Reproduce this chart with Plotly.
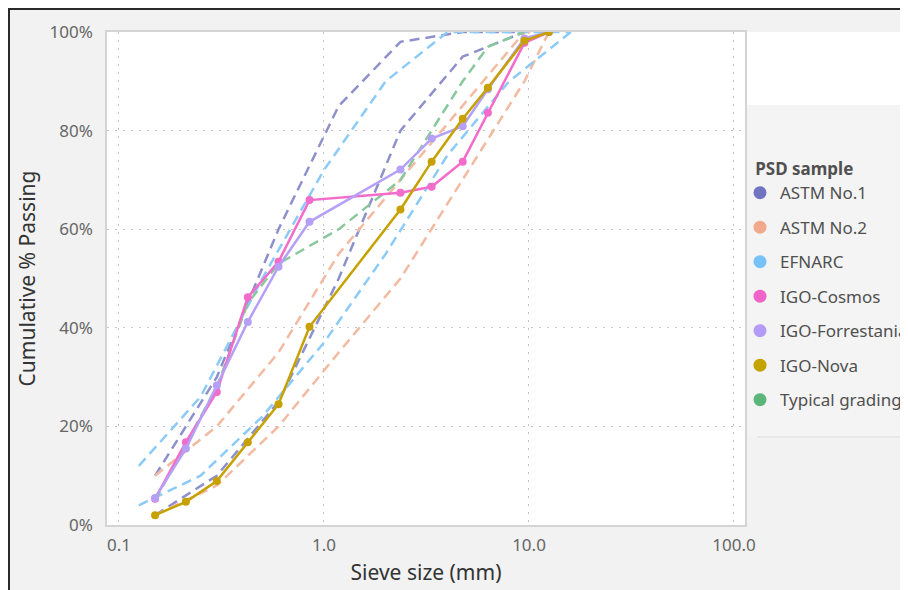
import plotly.graph_objects as go

# ---------------- data ----------------
astm1_sizes = [0.15, 0.3, 0.6, 1.18, 2.36, 4.75, 9.5]
astm1_upper = [10, 30, 60, 85, 98, 100, 100]
astm1_lower = [2, 10, 25, 50, 80, 95, 100]

astm2_sizes = [0.15, 0.3, 0.6, 1.18, 2.36, 4.75, 9.5, 12.5]
astm2_upper = [10, 20, 35, 55, 70, 85, 100, 100]
astm2_lower = [2, 8, 20, 35, 50, 70, 90, 100]

efnarc_sizes = [0.125, 0.25, 0.5, 1, 2, 4, 8, 16]
efnarc_upper = [12, 26, 50, 72, 90, 100, 100, 100]
efnarc_lower = [4, 10, 22, 37, 55, 75, 90, 100]

typical_sizes = [0.15, 0.3, 0.425, 0.6, 1.18, 2.36, 4.75, 6.3, 9.5]
typical_pass = [5, 28, 45, 53, 60, 70, 90, 97, 100]

igo_sizes = [0.15, 0.212, 0.3, 0.425, 0.6, 0.85, 2.36, 3.35, 4.75, 6.3, 9.5, 12.5]
cosmos = [5.3, 16.8, 27.0, 46.2, 53.4, 65.9, 67.4, 68.6, 73.7, 83.6, 97.8, 100]
forrestania = [5.5, 15.5, 28.3, 41.2, 52.4, 61.5, 72.1, 78.4, 80.9, 88.4, 98.7, 100]
nova = [2.0, 4.7, 8.9, 16.8, 24.5, 40.2, 64.0, 73.7, 82.4, 88.7, 98.2, 100]

x_tickvals = [0.1, 1, 10, 100]
x_ticktext = ["0.1", "1.0", "10.0", "100.0"]
y_tickvals = [0, 20, 40, 60, 80, 100]
y_ticktext = ["0%", "20%", "40%", "60%", "80%", "100%"]

legend_names = ["ASTM No.1", "ASTM No.2", "EFNARC", "IGO-Cosmos",
                "IGO-Forrestania", "IGO-Nova", "Typical grading"]
legend_colors = ["#7074c2", "#f2a98b", "#76c2f9", "#f063c9",
                 "#b49cf6", "#c4a200", "#5bb67c"]

# ---------------- figure ----------------
# The page has an 8px body margin, so the figure occupies 900x582 of the window.
W, H = 900, 582
L, R, T, B = 99, 737, 24, 517  # plot area in figure pixels

fig = go.Figure()

dash_pat = "10px,6px"
dashed = [
    (astm1_sizes, astm1_upper, "#8e90cc"),
    (astm1_sizes, astm1_lower, "#8e90cc"),
    (astm2_sizes, astm2_upper, "#f3baa2"),
    (astm2_sizes, astm2_lower, "#f3baa2"),
    (efnarc_sizes, efnarc_upper, "#8ccbf8"),
    (efnarc_sizes, efnarc_lower, "#8ccbf8"),
    (typical_sizes, typical_pass, "#88c89c"),
]
for xs, ys, col in dashed:
    fig.add_trace(go.Scatter(x=xs, y=ys, mode="lines",
                             line=dict(color=col, width=2.5, dash=dash_pat),
                             showlegend=False, hoverinfo="skip"))

solid = [(cosmos, "#f36bcb"), (forrestania, "#b6a0f7"), (nova, "#c6a100")]
for ys, col in solid:
    fig.add_trace(go.Scatter(x=igo_sizes, y=ys, mode="lines+markers",
                             line=dict(color=col, width=2.5),
                             marker=dict(color=col, size=8),
                             showlegend=False))

# legend entries (circle markers)
for i, (nm, col) in enumerate(zip(legend_names, legend_colors)):
    fig.add_trace(go.Scatter(x=[None], y=[None], mode="markers", name=nm,
                             legendgroup=f"g{i}",
                             marker=dict(color=col, size=13, symbol="circle")))

def px2x(px):
    return (px - L) / (R - L)

def py2y(py):
    return (B - py) / (B - T)

shapes = [
    # white region above legend
    dict(type="rect", xref="paper", yref="paper", x0=px2x(R), x1=px2x(W + 5),
         y0=py2y(97), y1=py2y(T), fillcolor="white", line_width=0, layer="below"),
    # legend panel
    dict(type="rect", xref="paper", yref="paper", x0=px2x(R), x1=px2x(W + 5),
         y0=py2y(430), y1=py2y(97), fillcolor="#f4f4f4", line_width=0, layer="below"),
    dict(type="line", xref="paper", yref="paper", x0=px2x(749), x1=px2x(W + 5),
         y0=py2y(429), y1=py2y(429), line=dict(color="#dddddd", width=1), layer="below"),
    # black outer frame
    dict(type="path", xref="paper", yref="paper",
         path=f"M {px2x(1)} {py2y(H + 5)} L {px2x(1)} {py2y(1)} L {px2x(W + 5)} {py2y(1)}",
         line=dict(color="#2a2a2a", width=2), layer="below"),
]

font_fam = "Noto Sans, Open Sans, sans-serif"

fig.update_layout(
    width=W, height=H,
    margin=dict(l=L, r=W - R, t=T, b=H - B, autoexpand=False),
    paper_bgcolor="#f1f2f1",
    plot_bgcolor="white",
    shapes=shapes,
    font=dict(family=font_fam, color="#605e5c"),
    showlegend=True,
    legend=dict(
        title=dict(text="<b>\u00a0\u00a0\u00a0PSD sample</b>", font=dict(size=17, color="#505050")),
        x=px2x(732), xanchor="left", y=py2y(145), yanchor="top",
        font=dict(size=17, color="#505050"),
        bgcolor="rgba(0,0,0,0)",
        traceorder="grouped", tracegroupgap=9.4,
        itemclick=False,
    ),
    xaxis=dict(
        type="log", range=[-1.0585, 2.0537],
        tickvals=x_tickvals, ticktext=x_ticktext,
        tickfont=dict(size=17, color="#666666"),
        ticklabelstandoff=4,
        showgrid=True, gridcolor="#c4c4c4", griddash="2px,6px", gridwidth=1,
        showline=True, mirror=True, linecolor="#d4d4d4", linewidth=1.5,
        zeroline=False, ticks="",
        title=dict(text="Sieve size (mm)", font=dict(size=21, color="#333333"), standoff=10),
    ),
    yaxis=dict(
        range=[0, 100],
        tickvals=y_tickvals, ticktext=y_ticktext,
        tickfont=dict(size=17, color="#666666"),
        ticklabelstandoff=9,
        showgrid=True, gridcolor="#c4c4c4", griddash="2px,6px", gridwidth=1,
        showline=True, mirror=True, linecolor="#d4d4d4", linewidth=1.5,
        zeroline=False, ticks="",
        title=dict(text="Cumulative % Passing", font=dict(size=21, color="#333333"), standoff=8),
    ),
)

fig.write_html(
    "out.html",
    post_script="document.documentElement.style.overflow='hidden';"
                "document.body.style.overflow='hidden';",
)
